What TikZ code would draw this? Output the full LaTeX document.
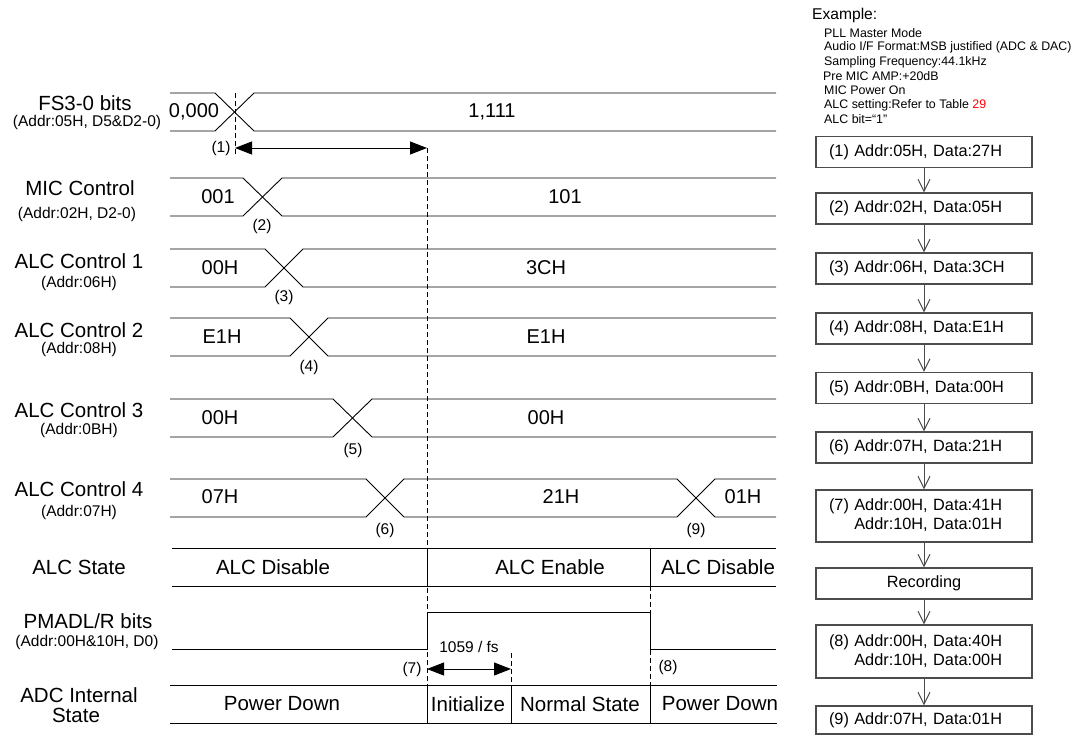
\documentclass[tikz,border=0pt]{standalone}
\usepackage{fontspec}
\setmainfont{Liberation Sans}
\usetikzlibrary{arrows.meta}
\begin{document}
\begin{tikzpicture}[x=1pt,y=-1pt,
  sig/.style={line width=0.9pt},
  big/.style={font=\fontsize{20.5}{24}\selectfont, inner sep=0pt},
  val/.style={font=\fontsize{20}{24}\selectfont, inner sep=0pt},
  sub/.style={font=\fontsize{15.5}{18}\selectfont, inner sep=0pt},
  exl/.style={font=\fontsize{12.4}{14.3}\selectfont, inner sep=0pt, anchor=west},
  dsh/.style={line width=0.9pt, dash pattern=on 5pt off 3pt},
  dimarrow/.style={line width=0.9pt, {Triangle[length=17pt,width=13pt]}-{Triangle[length=17pt,width=13pt]}},
  fbox/.style={draw=black!70, line width=1.1pt, minimum width=216pt, minimum height=31pt, inner xsep=13pt, inner ysep=0pt, text width=190pt, align=left, font=\fontsize{16.3}{19}\selectfont},
  farr/.style={draw=black!70, line width=1pt, -{Straight Barb[length=12pt,width=12pt]}},
]
\useasboundingbox (0,0) rectangle (1073,735);

% dashed guide lines
\draw[dsh] (235,93) -- (235,156);
\draw[dsh] (427,148) -- (427,685);
\draw[dsh] (511,653) -- (511,685);
\draw[dsh] (650,586) -- (650,685);

% FS3-0 bits
\draw[sig] (170,93) -- (215,93) -- (254,131) -- (776,131);
\draw[sig] (170,131) -- (215,131) -- (254,93) -- (776,93);
% MIC Control
\draw[sig] (170,178) -- (243,178) -- (282,216) -- (776,216);
\draw[sig] (170,216) -- (243,216) -- (282,178) -- (776,178);
% ALC Control 1
\draw[sig] (170,249) -- (265,249) -- (303,287) -- (776,287);
\draw[sig] (170,287) -- (265,287) -- (303,249) -- (776,249);
% ALC Control 2
\draw[sig] (170,318) -- (290,318) -- (328,356) -- (776,356);
\draw[sig] (170,356) -- (290,356) -- (328,318) -- (776,318);
% ALC Control 3
\draw[sig] (170,399) -- (333,399) -- (372,437) -- (776,437);
\draw[sig] (170,437) -- (333,437) -- (372,399) -- (776,399);
% ALC Control 4
\draw[sig] (170,479) -- (366,479) -- (404,517) -- (677,517) -- (715,479) -- (776,479);
\draw[sig] (170,517) -- (366,517) -- (404,479) -- (677,479) -- (715,517) -- (776,517);
% ALC State
\draw[sig] (172,548) -- (776,548);
\draw[sig] (172,586) -- (776,586);
\draw[sig] (427,548) -- (427,586);
\draw[sig] (650,548) -- (650,586);
% PMADL/R bits
\draw[sig] (172,649) -- (427,649) -- (427,612) -- (650,612) -- (650,649) -- (776,649);
% ADC Internal State
\draw[sig] (170,685) -- (777,685);
\draw[sig] (170,723) -- (777,723);
\draw[sig] (427,685) -- (427,723);
\draw[sig] (511,685) -- (511,723);
\draw[sig] (650,685) -- (650,723);

% dimension arrows
\coordinate (d1a) at (235,148);
\coordinate (d1b) at (427,148);
\draw[dimarrow] (d1a) -- (d1b);
\coordinate (d2a) at (427,669);
\coordinate (d2b) at (511,669);
\draw[dimarrow] (d2a) -- (d2b);

% left labels
\node[big] (l1) at (85,103) {FS3-0 bits};
\node[sub] (l1s) at (87,122) {(Addr:05H, D5\&D2-0)};
\node[big] (l2) at (80,188) {MIC Control};
\node[sub] (l2s) at (77,214) {(Addr:02H, D2-0)};
\node[big] (l3) at (79,261) {ALC Control 1};
\node[sub] (l3s) at (79,283) {(Addr:06H)};
\node[big] (l4) at (79,330) {ALC Control 2};
\node[sub] (l4s) at (79,349) {(Addr:08H)};
\node[big] (l5) at (79,410) {ALC Control 3};
\node[sub] (l5s) at (79,430) {(Addr:0BH)};
\node[big] (l6) at (79,489) {ALC Control 4};
\node[sub] (l6s) at (79,512) {(Addr:07H)};
\node[big] (l7) at (79,567) {ALC State};
\node[big] (l8) at (88,621) {PMADL/R bits};
\node[sub] (l8s) at (87,642) {(Addr:00H\&10H, D0)};
\node[big] (l9) at (79,695) {ADC Internal};
\node[big] (l9s) at (76,715) {State};

% values
\node[val] (v1a) at (194,112) {0,000};
\node[val] (v1b) at (492,112) {1,111};
\node[val] (v2a) at (218,197) {001};
\node[val] (v2b) at (565,197) {101};
\node[val] (v3a) at (220,268) {00H};
\node[val] (v3b) at (546,268) {3CH};
\node[val] (v4a) at (222,337) {E1H};
\node[val] (v4b) at (546,337) {E1H};
\node[val] (v5a) at (220,418) {00H};
\node[val] (v5b) at (546,418) {00H};
\node[val] (v6a) at (220,497) {07H};
\node[val] (v6b) at (561,497) {21H};
\node[val] (v6c) at (743,497) {01H};
\node[big] (s1) at (273,567) {ALC Disable};
\node[big] (s2) at (550,567) {ALC Enable};
\node[big] (s3) at (718,567) {ALC Disable};
\node[big] (a1) at (282,704) {Power Down};
\node[big] (a2) at (468,704) {Initialize};
\node[big] (a3) at (580,704) {Normal State};
\node[big] (a4) at (720,704) {Power Down};

% step markers
\node[sub] (m1) at (221,148) {(1)};
\node[sub] (m2) at (262,226) {(2)};
\node[sub] (m3) at (284,297) {(3)};
\node[sub] (m4) at (309,367) {(4)};
\node[sub] (m5) at (353,450) {(5)};
\node[sub] (m6) at (385,530) {(6)};
\node[sub] (m9) at (696,530) {(9)};
\node[sub] (m7) at (412,669) {(7)};
\node[sub] (m8) at (668,667) {(8)};
\node[sub] (t1) at (469,647) {1059 / fs};

% example text
\node[font=\fontsize{15.6}{18}\selectfont, inner sep=0pt, anchor=west] (ex0) at (812,15) {Example:};
\node[exl] (ex1) at (824,33.3) {PLL Master Mode};
\node[exl] (ex2) at (824,47.6) {Audio I/F Format:MSB justified (ADC \& DAC)};
\node[exl] (ex3) at (824,62) {Sampling Frequency:44.1kHz};
\node[exl] (ex4) at (823,76.3) {Pre MIC AMP:+20dB};
\node[exl] (ex5) at (824,90.6) {MIC Power On};
\node[exl] (ex6) at (824,105) {ALC setting:Refer to Table \textcolor{red}{29}};
\node[exl] (ex7) at (824,119.3) {ALC bit=“1”};

% flow chart
\node[fbox] (b1) at (924,152) {(1) Addr:05H, Data:27H};
\node[fbox] (b2) at (924,208.5) {(2) Addr:02H, Data:05H};
\node[fbox] (b3) at (924,268.5) {(3) Addr:06H, Data:3CH};
\node[fbox] (b4) at (924,328.5) {(4) Addr:08H, Data:E1H};
\node[fbox] (b5) at (924,388) {(5) Addr:0BH, Data:00H};
\node[fbox] (b6) at (924,447.5) {(6) Addr:07H, Data:21H};
\node[fbox, minimum height=52pt] (b7) at (924,516) {(7) Addr:00H, Data:41H\\\phantom{(7) }Addr:10H, Data:01H};
\node[fbox, align=center] (rec) at (924,583.5) {Recording};
\node[fbox, minimum height=53pt] (b8) at (924,651.5) {(8) Addr:00H, Data:40H\\\phantom{(8) }Addr:10H, Data:00H};
\node[fbox, minimum height=28pt] (b9) at (924,720) {(9) Addr:07H, Data:01H};

\draw[farr] (b1) -- (b2);
\draw[farr] (b2) -- (b3);
\draw[farr] (b3) -- (b4);
\draw[farr] (b4) -- (b5);
\draw[farr] (b5) -- (b6);
\draw[farr] (b6) -- (b7);
\draw[farr] (b7) -- (rec);
\draw[farr] (rec) -- (b8);
\draw[farr] (b8) -- (b9);
\end{tikzpicture}
\end{document}
